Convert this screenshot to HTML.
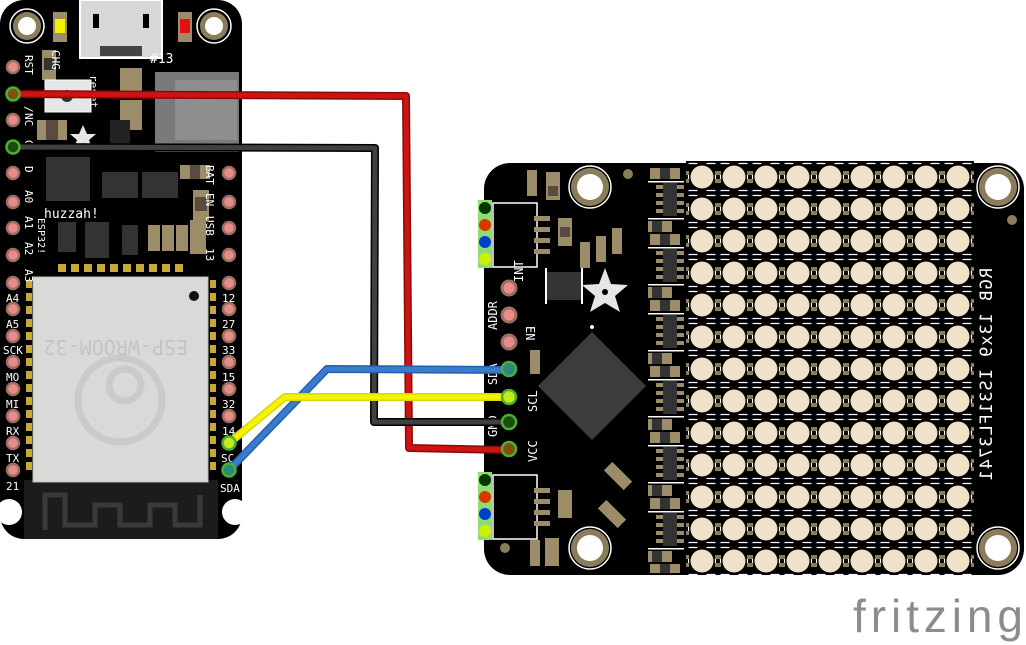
<!DOCTYPE html>
<html><head><meta charset="utf-8"><style>
html,body{margin:0;padding:0;background:#fff;width:1026px;height:645px;overflow:hidden}
svg{display:block}
text{font-family:"DejaVu Sans Mono","Liberation Mono",monospace;fill:#fff}
text.logo{font-family:"Liberation Sans",sans-serif;fill:#8c8c8c}
</style></head><body>
<svg width="1026" height="645" viewBox="0 0 1026 645" xmlns="http://www.w3.org/2000/svg">
<defs>
<pattern id="led" x="686" y="161" width="32" height="32" patternUnits="userSpaceOnUse">
<rect x="0" y="0" width="32" height="32" fill="#000"/>
<rect x="2.5" y="2.5" width="27" height="27" fill="none" stroke="#fff" stroke-width="1.2" stroke-dasharray="9 9"/>
<rect x="0" y="10" width="3" height="4" fill="#8b7d5c"/><rect x="29" y="18" width="3" height="4" fill="#8b7d5c"/>
<rect x="0" y="18" width="3" height="4" fill="#8b7d5c"/><rect x="29" y="10" width="3" height="4" fill="#8b7d5c"/>
<circle cx="16" cy="16" r="11.5" fill="#efe2c8"/>
</pattern>
<pattern id="rarr" x="648" y="168" width="36" height="66" patternUnits="userSpaceOnUse">
<rect x="2" y="0" width="30" height="11" fill="#9c8d68"/><rect x="12" y="0" width="10" height="11" fill="#333"/>
<rect x="0" y="13" width="36" height="1.5" fill="#fff"/>
<rect x="8" y="17" width="28" height="4" fill="#9c8d68"/><rect x="8" y="25" width="28" height="4" fill="#9c8d68"/>
<rect x="8" y="33" width="28" height="4" fill="#9c8d68"/><rect x="8" y="41" width="28" height="4" fill="#9c8d68"/>
<rect x="15" y="15" width="14" height="33" fill="#333"/>
<rect x="0" y="50" width="36" height="1.5" fill="#fff"/>
<rect x="-6" y="53" width="30" height="11" fill="#9c8d68"/><rect x="4" y="53" width="10" height="11" fill="#333"/>
</pattern>
</defs>

<rect x="0" y="0" width="242" height="539" rx="24" fill="#000"/>
<circle cx="9" cy="512" r="13" fill="#fff"/><circle cx="235" cy="512" r="13" fill="#fff"/>
<rect x="24" y="480" width="194" height="59" fill="#1c1c1c"/>
<path d="M45,530 V495 H65 V525 H95 V505 H120 V525 H150 V505 H175 V525 H200 V495" fill="none" stroke="#3a3a3a" stroke-width="5"/>
<circle cx="27" cy="26" r="17" fill="none" stroke="#fff" stroke-width="1.5"/><circle cx="27" cy="26" r="14" fill="#8b7d5c"/><circle cx="27" cy="26" r="9" fill="#fff"/>
<circle cx="214" cy="26" r="17" fill="none" stroke="#fff" stroke-width="1.5"/><circle cx="214" cy="26" r="14" fill="#8b7d5c"/><circle cx="214" cy="26" r="9" fill="#fff"/>
<rect x="53" y="12" width="14" height="30" fill="#9c8d68"/><rect x="55" y="19" width="10" height="14" fill="#f5f000"/>
<rect x="178" y="12" width="14" height="30" fill="#9c8d68"/><rect x="180" y="19" width="10" height="14" fill="#e41111"/>
<rect x="80" y="0" width="82" height="58" fill="#d8d8d8" stroke="#fff" stroke-width="2"/>
<rect x="93" y="14" width="6" height="14" fill="#000"/><rect x="143" y="14" width="6" height="14" fill="#000"/>
<rect x="100" y="46" width="42" height="10" fill="#444"/>
<rect x="42" y="50" width="14" height="30" fill="#9c8d68"/><rect x="44" y="58" width="10" height="12" fill="#333"/>
<rect x="45" y="80" width="46" height="32" fill="#e6e6e6" stroke="#fff"/><circle cx="67" cy="96" r="6" fill="#333"/>
<rect x="120" y="68" width="22" height="30" fill="#9c8d68"/><rect x="120" y="100" width="22" height="30" fill="#9c8d68"/>
<rect x="155" y="72" width="84" height="80" fill="#7a7a7a"/><rect x="175" y="80" width="62" height="60" fill="#8e8e8e"/>
<rect x="37" y="120" width="30" height="20" fill="#9c8d68"/><rect x="46" y="120" width="12" height="20" fill="#5a4a40"/>
<polygon points="83,125 87,134 96,134 89,140 92,148 83,143 74,148 77,140 70,134 79,134" fill="#e6e6e6"/>
<rect x="110" y="120" width="20" height="28" fill="#222"/>
<rect x="46" y="157" width="44" height="44" fill="#333"/>
<rect x="102" y="172" width="36" height="26" fill="#333"/><rect x="142" y="172" width="36" height="26" fill="#333"/>
<rect x="180" y="165" width="30" height="14" fill="#9c8d68"/><rect x="190" y="165" width="10" height="14" fill="#5a4a40"/>
<rect x="193" y="190" width="16" height="30" fill="#9c8d68"/><rect x="195" y="197" width="12" height="14" fill="#5a4a40"/>
<rect x="58" y="222" width="18" height="30" fill="#333"/><rect x="85" y="222" width="24" height="36" fill="#333"/>
<rect x="122" y="225" width="16" height="30" fill="#333"/>
<rect x="148" y="225" width="12" height="26" fill="#9c8d68"/><rect x="162" y="225" width="12" height="26" fill="#9c8d68"/><rect x="176" y="225" width="12" height="26" fill="#9c8d68"/>
<rect x="190" y="220" width="16" height="34" fill="#9c8d68"/>
<text x="44" y="218" font-size="13">huzzah!</text>
<text x="150" y="63" font-size="13">#13</text>
<g fill="#c8a836">
<rect x="58" y="264" width="8" height="8"/><rect x="71" y="264" width="8" height="8"/><rect x="84" y="264" width="8" height="8"/><rect x="97" y="264" width="8" height="8"/><rect x="110" y="264" width="8" height="8"/><rect x="123" y="264" width="8" height="8"/><rect x="136" y="264" width="8" height="8"/><rect x="149" y="264" width="8" height="8"/><rect x="162" y="264" width="8" height="8"/><rect x="175" y="264" width="8" height="8"/>
<rect x="26" y="280" width="6" height="8"/><rect x="26" y="293" width="6" height="8"/><rect x="26" y="306" width="6" height="8"/><rect x="26" y="319" width="6" height="8"/><rect x="26" y="332" width="6" height="8"/><rect x="26" y="345" width="6" height="8"/><rect x="26" y="358" width="6" height="8"/><rect x="26" y="371" width="6" height="8"/><rect x="26" y="384" width="6" height="8"/><rect x="26" y="397" width="6" height="8"/><rect x="26" y="410" width="6" height="8"/><rect x="26" y="423" width="6" height="8"/><rect x="26" y="436" width="6" height="8"/><rect x="26" y="449" width="6" height="8"/><rect x="26" y="462" width="6" height="8"/>
<rect x="210" y="280" width="6" height="8"/><rect x="210" y="293" width="6" height="8"/><rect x="210" y="306" width="6" height="8"/><rect x="210" y="319" width="6" height="8"/><rect x="210" y="332" width="6" height="8"/><rect x="210" y="345" width="6" height="8"/><rect x="210" y="358" width="6" height="8"/><rect x="210" y="371" width="6" height="8"/><rect x="210" y="384" width="6" height="8"/><rect x="210" y="397" width="6" height="8"/><rect x="210" y="410" width="6" height="8"/><rect x="210" y="423" width="6" height="8"/><rect x="210" y="436" width="6" height="8"/><rect x="210" y="449" width="6" height="8"/><rect x="210" y="462" width="6" height="8"/>
</g>
<rect x="33" y="277" width="175" height="205" fill="#d9d9d7" stroke="#bdbdbb"/>
<circle cx="194" cy="296" r="5" fill="#111"/>
<text x="0" y="0" font-size="20" style="fill:#c4c4c2" transform="translate(188,340) scale(-1,-1)">ESP-WROOM-32</text>
<circle cx="120" cy="400" r="42" fill="none" stroke="#cacac8" stroke-width="7"/>
<circle cx="125" cy="385" r="16" fill="none" stroke="#cacac8" stroke-width="7"/>
<g fill="#e98b8b" stroke="#9c7060" stroke-width="2.5">
<circle cx="13" cy="67" r="6"/><circle cx="13" cy="120" r="6"/><circle cx="13" cy="173" r="6"/><circle cx="13" cy="202" r="6"/><circle cx="13" cy="228" r="6"/><circle cx="13" cy="255" r="6"/><circle cx="13" cy="283" r="6"/><circle cx="13" cy="309" r="6"/><circle cx="13" cy="336" r="6"/><circle cx="13" cy="362" r="6"/><circle cx="13" cy="389" r="6"/><circle cx="13" cy="416" r="6"/><circle cx="13" cy="443" r="6"/><circle cx="13" cy="470" r="6"/>
<circle cx="229" cy="173" r="6"/><circle cx="229" cy="202" r="6"/><circle cx="229" cy="228" r="6"/><circle cx="229" cy="255" r="6"/><circle cx="229" cy="283" r="6"/><circle cx="229" cy="309" r="6"/><circle cx="229" cy="336" r="6"/><circle cx="229" cy="362" r="6"/><circle cx="229" cy="389" r="6"/><circle cx="229" cy="416" r="6"/>
</g>
<g font-size="11">
<text transform="translate(25,55) rotate(90)">RST</text>
<text transform="translate(25,106) rotate(90)">/</text>
<text transform="translate(25,113) rotate(90)">NC</text>
<text transform="translate(25,140) rotate(90)">G</text>
<text transform="translate(25,166) rotate(90)">D</text>
<text transform="translate(25,190) rotate(90)">A0</text>
<text transform="translate(25,216) rotate(90)">A1</text>
<text transform="translate(25,242) rotate(90)">A2</text>
<text transform="translate(25,269) rotate(90)">A3</text>
<text transform="translate(38,218) rotate(90)" font-size="10">ESP32!</text>
<text transform="translate(52,50) rotate(90)" font-size="11">CHG</text>
<text transform="translate(206,165) rotate(90)">BAT</text>
<text transform="translate(206,193) rotate(90)">EN</text>
<text transform="translate(206,216) rotate(90)">USB</text>
<text transform="translate(206,248) rotate(90)">13</text>
<text transform="translate(90,75) rotate(90)">reset</text>
<text x="6" y="302">A4</text><text x="6" y="328">A5</text><text x="3" y="354">SCK</text><text x="6" y="381">MO</text><text x="6" y="408">MI</text><text x="6" y="435">RX</text><text x="6" y="462">TX</text><text x="6" y="490">21</text>
<text x="222" y="302">12</text><text x="222" y="328">27</text><text x="222" y="354">33</text><text x="222" y="381">15</text><text x="222" y="408">32</text><text x="222" y="435">14</text><text x="221" y="462">SC</text><text x="220" y="492">SDA</text>
</g>

<rect x="484" y="163" width="540" height="412" rx="26" fill="#000"/>
<rect x="686" y="161" width="288" height="414" fill="url(#led)"/>
<rect x="648" y="168" width="36" height="405" fill="url(#rarr)"/>
<circle cx="590" cy="187" r="21" fill="none" stroke="#fff" stroke-width="1.5"/><circle cx="590" cy="187" r="19" fill="#8b7d5c"/><circle cx="590" cy="187" r="13" fill="#fff"/>
<circle cx="590" cy="548" r="21" fill="none" stroke="#fff" stroke-width="1.5"/><circle cx="590" cy="548" r="19" fill="#8b7d5c"/><circle cx="590" cy="548" r="13" fill="#fff"/>
<circle cx="998" cy="187" r="21" fill="none" stroke="#fff" stroke-width="1.5"/><circle cx="998" cy="187" r="19" fill="#8b7d5c"/><circle cx="998" cy="187" r="13" fill="#fff"/>
<circle cx="998" cy="548" r="21" fill="none" stroke="#fff" stroke-width="1.5"/><circle cx="998" cy="548" r="19" fill="#8b7d5c"/><circle cx="998" cy="548" r="13" fill="#fff"/>
<circle cx="628" cy="174" r="5" fill="#8b7d5c"/><circle cx="1012" cy="220" r="5" fill="#8b7d5c"/><circle cx="505" cy="548" r="5" fill="#8b7d5c"/>
<rect x="478" y="200" width="14" height="68" fill="#8fdc70"/>
<circle cx="485" cy="208" r="6" fill="#003800"/><circle cx="485" cy="225" r="6" fill="#d83800"/><circle cx="485" cy="242" r="6" fill="#0040d0"/><circle cx="485" cy="259" r="6" fill="#d0f000"/>
<rect x="493" y="203" width="44" height="64" fill="#000" stroke="#fff" stroke-width="1.5"/>
<rect x="534" y="216" width="16" height="5" fill="#9c8d68"/><rect x="534" y="227" width="16" height="5" fill="#9c8d68"/><rect x="534" y="238" width="16" height="5" fill="#9c8d68"/><rect x="534" y="249" width="16" height="5" fill="#9c8d68"/>
<rect x="478" y="472" width="14" height="68" fill="#8fdc70"/>
<circle cx="485" cy="480" r="6" fill="#003800"/><circle cx="485" cy="497" r="6" fill="#d83800"/><circle cx="485" cy="514" r="6" fill="#0040d0"/><circle cx="485" cy="531" r="6" fill="#d0f000"/>
<rect x="493" y="475" width="44" height="64" fill="#000" stroke="#fff" stroke-width="1.5"/>
<rect x="534" y="488" width="16" height="5" fill="#9c8d68"/><rect x="534" y="499" width="16" height="5" fill="#9c8d68"/><rect x="534" y="510" width="16" height="5" fill="#9c8d68"/><rect x="534" y="521" width="16" height="5" fill="#9c8d68"/>
<g fill="#9c8d68">
<rect x="527" y="170" width="10" height="26"/><rect x="546" y="172" width="14" height="28"/><rect x="558" y="218" width="14" height="28"/>
<rect x="580" y="242" width="10" height="26"/><rect x="596" y="236" width="10" height="26"/><rect x="612" y="228" width="10" height="26"/>
<rect x="530" y="540" width="10" height="26"/><rect x="545" y="538" width="14" height="28"/><rect x="558" y="490" width="14" height="28"/>
<rect x="530" y="350" width="10" height="24"/>
</g>
<rect x="548" y="186" width="10" height="10" fill="#5a4a40"/><rect x="560" y="227" width="10" height="10" fill="#5a4a40"/>
<rect x="546" y="272" width="36" height="28" fill="#333"/>
<rect x="545" y="268" width="2" height="36" fill="#fff"/><rect x="581" y="268" width="2" height="36" fill="#fff"/>
<polygon points="605,268 611,284 628,285 615,296 620,312 605,303 590,312 595,296 582,285 599,284" fill="#e6e6e6"/>
<circle cx="605" cy="292" r="3" fill="#000"/>
<circle cx="592" cy="327" r="2" fill="#fff"/>
<polygon points="592,332 646,386 592,440 538,386" fill="#3c3c3c"/>
<rect x="612" y="462" width="12" height="28" fill="#9c8d68" transform="rotate(-45 618 476)"/>
<rect x="606" y="500" width="12" height="28" fill="#9c8d68" transform="rotate(-45 612 514)"/>
<g fill="#e98b8b" stroke="#9c7060" stroke-width="3">
<circle cx="509" cy="288" r="7"/><circle cx="509" cy="315" r="7"/><circle cx="509" cy="342" r="7"/>
</g>
<g font-size="12">
<text transform="translate(523,282) rotate(-90)">INT</text>
<text transform="translate(497,330) rotate(-90)">ADDR</text>
<text transform="translate(526,326) rotate(90)">EN</text>
<text transform="translate(497,385) rotate(-90)">SDA</text>
<text transform="translate(537,412) rotate(-90)">SCL</text>
<text transform="translate(497,437) rotate(-90)">GND</text>
<text transform="translate(537,462) rotate(-90)">VCC</text>
<text transform="translate(992,268) rotate(90) scale(1,-1)" font-size="17" letter-spacing="1">RGB 13x9 IS31FL3741</text>
</g>

<g fill="none" stroke-linejoin="round" stroke-linecap="round">
<path d="M13,94 L406,96 L409,448 L511,450" stroke="#8a0a0a" stroke-width="8"/>
<path d="M13,94 L406,96 L409,448 L511,450" stroke="#cc1414" stroke-width="5"/>
<path d="M13,147 L375,148 L374,422 L511,422" stroke="#000" stroke-width="8"/>
<path d="M13,147 L375,148 L374,422 L511,422" stroke="#404040" stroke-width="5"/>
<path d="M229,470 L327,369 L511,370" stroke="#2560b0" stroke-width="8"/>
<path d="M229,470 L327,369 L511,370" stroke="#3a7ccc" stroke-width="5"/>
<path d="M229,443 L285,397 L511,397" stroke="#d8d800" stroke-width="8"/>
<path d="M229,443 L285,397 L511,397" stroke="#f4f400" stroke-width="5"/>
</g>
<g stroke="#4caf30" stroke-width="2.5">
<circle cx="13" cy="94" r="6.5" fill="#805010"/><circle cx="13" cy="147" r="6.5" fill="#1c4a10"/>
<circle cx="229" cy="443" r="6.5" fill="#c8e820"/><circle cx="229" cy="470" r="6.5" fill="#2a8a80"/>
<circle cx="509" cy="369" r="7" fill="#2a8a80"/><circle cx="509" cy="397" r="7" fill="#c8e820"/>
<circle cx="509" cy="422" r="7" fill="#1c4a10"/><circle cx="509" cy="449" r="7" fill="#805010"/>
</g>

<text class="logo" x="853" y="632" font-size="46" textLength="170" lengthAdjust="spacing">fritzing</text>
</svg>
</body></html>
